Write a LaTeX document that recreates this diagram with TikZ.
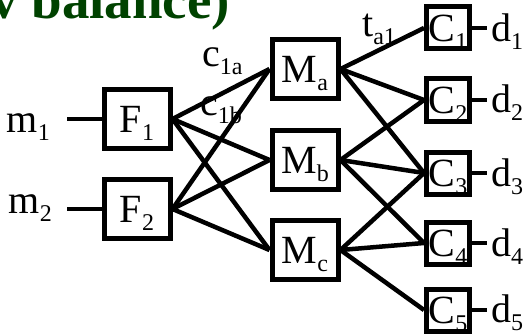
\documentclass[tikz,border=0pt]{standalone}
\usepackage{fontspec}
\setmainfont{Liberation Serif}
\usetikzlibrary{positioning}
\definecolor{titlegreen}{RGB}{0,66,0}
\newcommand{\lo}[1]{\raisebox{-8pt}{\fontsize{24}{24}\selectfont #1}}

\begin{document}
\begin{tikzpicture}[x=1pt, y=-1pt,
  stagebox/.style={draw, line width=5pt, inner sep=0pt, text depth=0pt,
    font=\fontsize{40}{44}\selectfont},
  bigbox/.style={stagebox, minimum width=66pt, minimum height=59pt},
  smallbox/.style={stagebox, minimum width=43pt, minimum height=42pt},
  txt/.style={inner sep=0pt, font=\fontsize{40}{44}\selectfont},
  link/.style={line width=4.5pt}]
  \useasboundingbox (0,0) rectangle (524,334);

  \node[anchor=base west, inner sep=0pt, text=titlegreen,
    font=\fontsize{55}{60}\selectfont\bfseries] (title) at (-10,19) {v balance)};

  % feeds
  \node[bigbox] (F1) at (137,119) {F\lo{1}};
  \node[bigbox] (F2) at (137,209) {F\lo{2}};
  \node[txt, anchor=base east, inner xsep=17pt] (m1) at (67,132) {m\lo{1}};
  \node[txt, anchor=base east, inner xsep=15pt] (m2) at (67,213) {m\lo{2}};

  % mixers
  \node[bigbox] (Ma) at (305,69) {M\lo{a}};
  \node[bigbox] (Mb) at (305,160) {M\lo{b}};
  \node[bigbox] (Mc) at (305,250) {M\lo{c}};

  % customers
  \node[smallbox] (C1) at (448,28) {C\lo{1}};
  \node[smallbox] (C2) at (448,100) {C\lo{2}};
  \node[smallbox] (C3) at (448,173) {C\lo{3}};
  \node[smallbox] (C4) at (448,243) {C\lo{4}};
  \node[smallbox] (C5) at (448,310) {C\lo{5}};
  \node[txt, anchor=base west, inner xsep=4pt] (d1) at (487,42) {d\lo{1}};
  \node[txt, anchor=base west, inner xsep=4pt] (d2) at (487,113) {d\lo{2}};
  \node[txt, anchor=base west, inner xsep=4pt] (d3) at (487,186) {d\lo{3}};
  \node[txt, anchor=base west, inner xsep=4pt] (d4) at (487,256) {d\lo{4}};
  \node[txt, anchor=base west, inner xsep=4pt] (d5) at (487,322) {d\lo{5}};

  % flow labels
  \node[txt, anchor=base west] (c1a) at (202,67) {c\lo{1a}};
  \node[txt, anchor=base west] (c1b) at (200,115) {c\lo{1b}};
  \node[txt, anchor=base west] (ta1) at (362,37) {t\lo{a1}};

  \draw [link] (F1.west) to (F1.west -| m1.east);
  \draw [link] (F2.west) to (F2.west -| m2.east);

  \draw [link] (F1.east) to (Ma.west);
  \draw [link] (F1.east) to (Mb.west);
  \draw [link] (F1.east) to (Mc.west);
  \draw [link] (F2.east) to (Ma.west);
  \draw [link] (F2.east) to (Mb.west);
  \draw [link] (F2.east) to (Mc.west);

  \draw [link] (Ma.east) to (C1.west);
  \draw [link] (Ma.east) to (C2.west);
  \draw [link] (Ma.east) to (C3.west);
  \draw [link] (Mb.east) to (C2.west);
  \draw [link] (Mb.east) to (C3.west);
  \draw [link] (Mb.east) to (C4.west);
  \draw [link] (Mc.east) to (C3.west);
  \draw [link] (Mc.east) to (C4.west);
  \draw [link] (Mc.east) to (C5.west);

  \draw [link] (C1.east) to (C1.east -| d1.west);
  \draw [link] (C2.east) to (C2.east -| d2.west);
  \draw [link] (C3.east) to (C3.east -| d3.west);
  \draw [link] (C4.east) to (C4.east -| d4.west);
  \draw [link] (C5.east) to (C5.east -| d5.west);
\end{tikzpicture}
\end{document}
